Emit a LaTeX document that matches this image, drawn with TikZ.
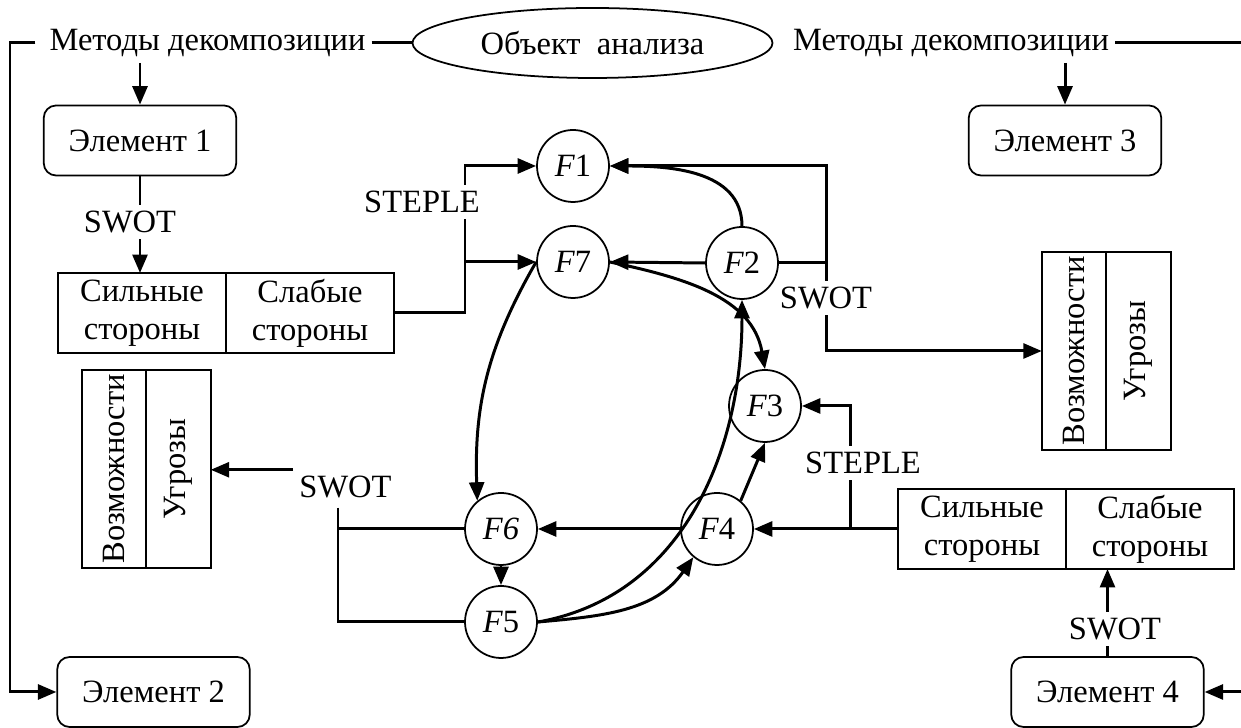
\documentclass[tikz,border=0pt]{standalone}
\usepackage{fontspec}
\setmainfont{Liberation Serif}
\usetikzlibrary{shapes,arrows.meta,positioning,calc}

\begin{document}
\begin{tikzpicture}[every node/.style={font=\fontsize{18.5}{21.5}\selectfont},
        >={Triangle[length=10.5pt,width=8.5pt]},
        link/.style={line width=1.7pt, black},
        elem/.style={draw, line width=1pt, rounded corners=7pt, minimum width=3.85cm, minimum height=1.4cm},
        fac/.style={draw, circle, line width=1pt, minimum size=1.44cm, inner sep=0pt},
        cell/.style={draw, line width=1pt, minimum width=3.36cm, minimum height=1.6cm, align=center, inner sep=0pt, outer sep=0pt},
        vcell/.style={draw, line width=1pt, rotate=90, minimum width=3.96cm, minimum height=1.29cm, inner sep=0pt, outer sep=0pt}]

        \useasboundingbox (0,0) rectangle (24.82,14.56);

        % Top row: object of analysis and the two decomposition labels
        \node[draw, ellipse, line width=1pt, minimum width=7.2cm, minimum height=1.4cm] (obj) at (11.85,13.7) {Объект~ анализа};
        \node (decL) at (4.15,13.7) {Методы декомпозиции};
        \node (decR) at (19.02,13.7) {Методы декомпозиции};

        % Elements
        \node[elem] (el1) at (2.8,11.75) {Элемент 1};
        \node[elem] (el2) at (3.07,0.72) {Элемент 2};
        \node[elem] (el3) at (21.3,11.75) {Элемент 3};
        \node[elem] (el4) at (22.15,0.72) {Элемент 4};

        % SWOT tables
        \node[cell] (s1) at (2.84,8.3) {Сильные\\стороны};
        \node[cell, right=0pt of s1] (w1) {Слабые\\стороны};
        \node[cell] (s2) at (19.64,3.98) {Сильные\\стороны};
        \node[cell, right=0pt of s2] (w2) {Слабые\\стороны};
        \node[vcell] (o1) at (2.28,5.18) {Возможности};
        \node[vcell] (t1) at (3.57,5.18) {Угрозы};
        \node[vcell] (o2) at (21.48,7.54) {Возможности};
        \node[vcell] (t2) at (22.77,7.54) {Угрозы};

        % Factors
        \node[fac] (f1) at (11.46,11.24) {\textit{F}1};
        \node[fac] (f7) at (11.46,9.32) {\textit{F}7};
        \node[fac] (f2) at (14.84,9.3) {\textit{F}2};
        \node[fac] (f3) at (15.3,6.44) {\textit{F}3};
        \node[fac] (f4) at (14.34,3.98) {\textit{F}4};
        \node[fac] (f6) at (10.02,3.98) {\textit{F6}};
        \node[fac] (f5) at (10.02,2.12) {\textit{F}5};

        % Method labels
        \node (swA) at (2.6,10.12) {SWOT};
        \node (stL) at (8.44,10.52) {STEPLE};
        \node (swR) at (16.52,8.6) {SWOT};
        \node (swL) at (6.91,4.82) {SWOT};
        \node (stR) at (17.26,5.3) {STEPLE};
        \node (swB) at (22.3,1.98) {SWOT};

        % Junctions
        \coordinate (cL) at (0.2,13.7);
        \coordinate (cR) at (24.95,13.7);
        \coordinate (jS) at (9.3,8.3);
        \coordinate (jR) at (16.52,9.3);
        \coordinate (jL) at (6.76,4.4);
        \coordinate (jT) at (17.0,3.98);

        % Decomposition
        \draw[link] (decL.east) -- (obj.west);
        \draw[link, ->] ([xshift=-0.16cm]decL.west) -- (cL) |- (el2.west);
        \draw[link, ->] (decR.east) -- (cR) |- (el4.east);
        \draw[link, ->] (decL.south -| el1.north) -- (el1.north);
        \draw[link, ->] (decR.south -| el3.north) -- (el3.north);

        % SWOT of the elements
        \draw[link] (el1.south) -- (el1.south |- swA.north);
        \draw[link, ->] (el1.south |- swA.south) -- (el1.south |- s1.north);
        \draw[link] (el4.north) -- (el4.north |- swB.south);
        \draw[link, ->] (el4.north |- swB.north) -- (el4.north |- w2.south);

        % STEPLE on the left
        \draw[link] (w1.east) -- (jS) -- (jS |- stL.south);
        \draw[link, ->] (jS |- f7.west) -- (f7.west);
        \draw[link, ->] (jS |- stL.north) |- (f1.west);

        % SWOT on the right
        \draw[link, ->] (f2.east) -- (jR) |- (f1.east);
        \draw[link] (jR) -- (swR.north);
        \draw[link, ->] (swR.south) |- (o2.north);

        % SWOT on the left
        \draw[link] (jL) |- (f6.west);
        \draw[link] (jL) |- (f5.west);
        \draw[link, ->] (swL.north west) -- (swL.north west -| t1.south);

        % STEPLE on the right
        \draw[link, ->] (s2.west) -- (f4.east);
        \draw[link] (jT) -- (jT |- stR.south);
        \draw[link, ->] (jT |- stR.north) |- (f3.east);

        % Links between factors
        \draw[link, ->] (f2.north) to[out=90, in=0] (f1.east);
        \draw[link, ->] (f2.west) -- (f7.east);
        \draw[link, ->] (f7.east) to[out=-12, in=100] (f3.north);
        \draw[link, ->] (f7.west) to[out=240, in=92] (f6.130);
        \draw[link, ->] (f5.east) to[out=10, in=-90] (f2.south);
        \draw[link, ->] (f5.east) to[out=5, in=235] (f4.230);
        \draw[link, ->] (f4.50) -- (f3.south);
        \draw[link, ->] (f4.west) -- (f6.east);
        \draw[link, ->] (f6.south) -- (f5.north);
    \end{tikzpicture}
\end{document}
